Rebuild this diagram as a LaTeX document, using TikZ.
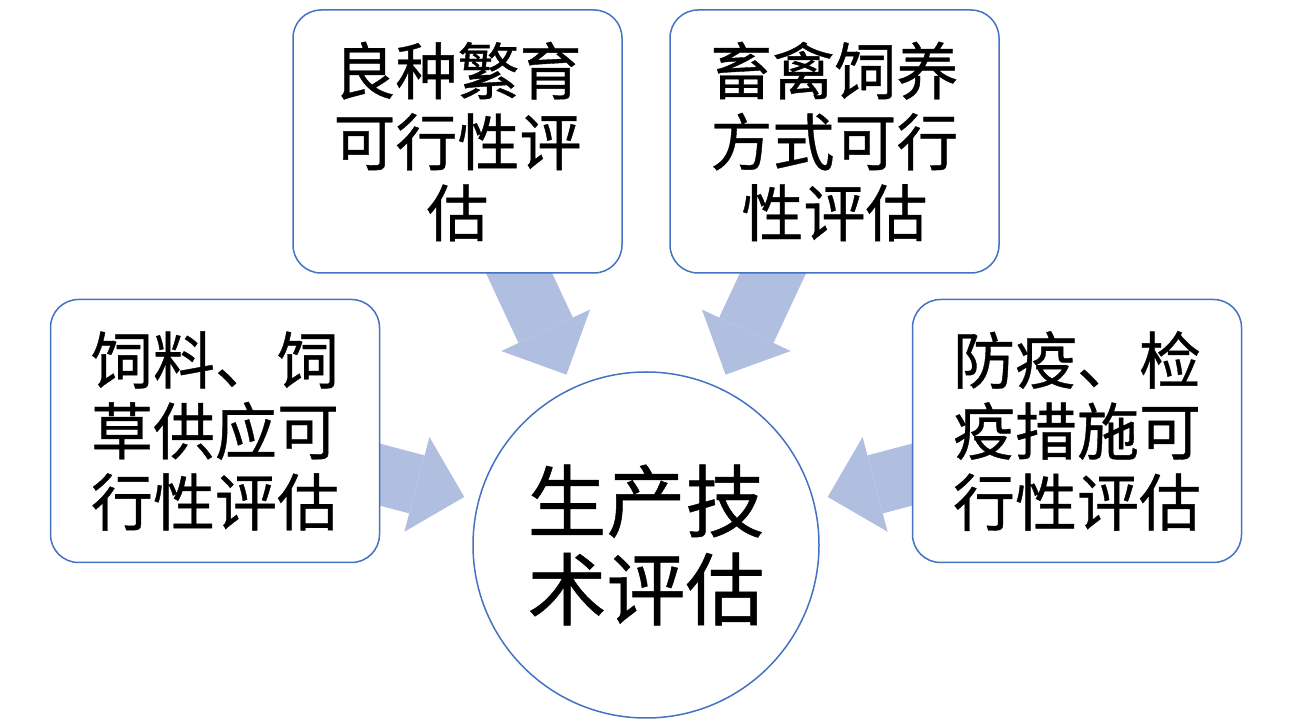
\documentclass[tikz,border=0pt]{standalone}
\usepackage{fontspec}
\newfontfamily\cjk[FakeBold=0.6]{Noto Sans CJK SC}
\usetikzlibrary{calc,arrows.meta,backgrounds}
\definecolor{edgeblue}{HTML}{4472C4}
\definecolor{flowblue}{HTML}{B0BEE0}
\tikzset{
    card/.style={
        draw=edgeblue, line width=1.5pt, fill=white, rounded corners=28pt,
        minimum width=329pt, minimum height=263pt, inner sep=0pt, align=center,
        font=\cjk\fontsize{62}{71}\selectfont
    },
    hub/.style={
        circle, draw=edgeblue, line width=1.5pt, fill=white,
        minimum size=346pt, inner sep=0pt, align=center,
        font=\cjk\fontsize{79}{88}\selectfont
    },
    feed/.style={
        draw=flowblue, line width=60pt,
        -{Triangle[length=49pt, width=98pt, line width=0pt]}
    }
}

\begin{document}
\begin{tikzpicture}[x=1pt, y=1pt]

\useasboundingbox (0,0) rectangle (1292,722);

\def\tipgap{188pt}

% centre
\node[hub] (core) at (646,177) {生产技\\术评估};

% four feeding cards
\node[card] (forage) at (215,291)    {饲料、饲\\草供应可\\行性评估};
\node[card] (breed)  at (457.5,580.5) {良种繁育\\可行性评\\估};
\node[card] (rear)   at (834.5,580.5) {畜禽饲养\\方式可行\\性评估};
\node[card] (guard)  at (1077,291)   {防疫、检\\疫措施可\\行性评估};

% arrows behind the cards
\begin{scope}[on background layer]
  \foreach \src in {forage,breed,rear,guard}
    \draw[feed] (\src.center) -- ($(core.center)!\tipgap!(\src.center)$);
\end{scope}

\end{tikzpicture}
\end{document}
